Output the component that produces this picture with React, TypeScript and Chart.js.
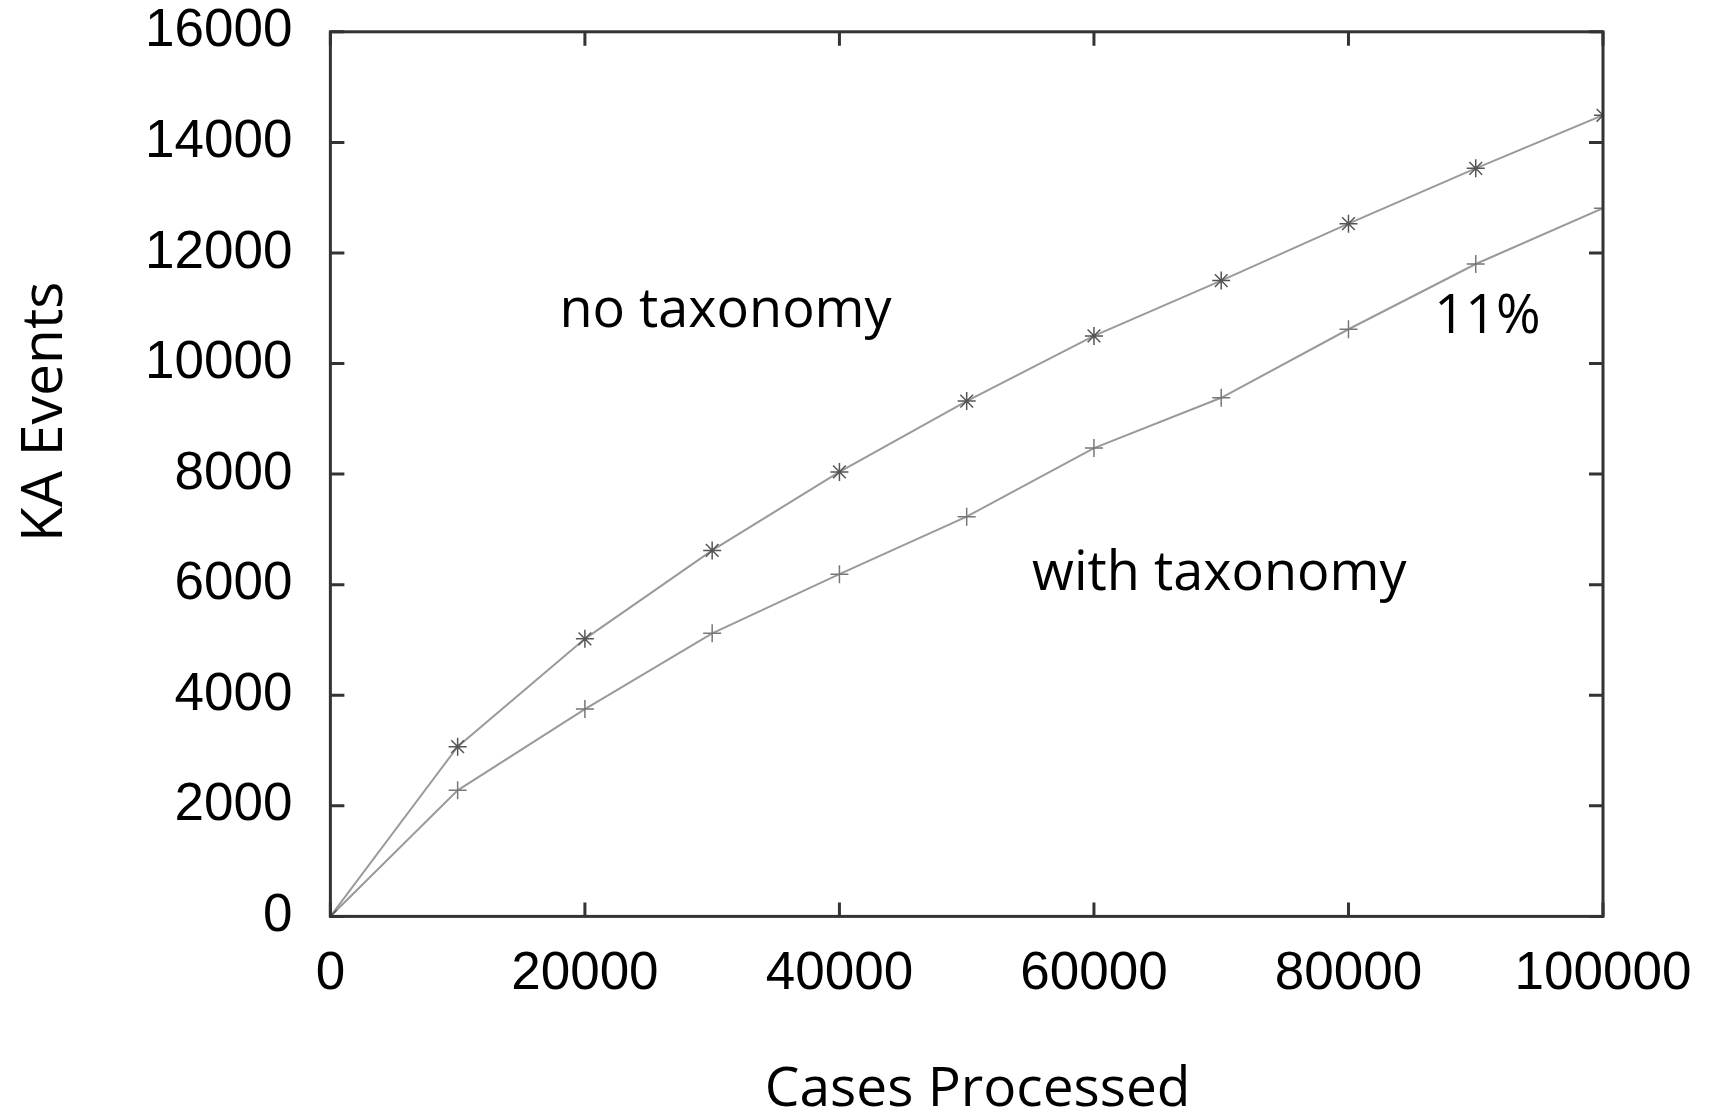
import React, { useEffect, useRef } from "react";
import { Chart, registerables } from "chart.js";

Chart.register(...registerables);

const casesProcessed = [0, 10000, 20000, 30000, 40000, 50000, 60000, 70000, 80000, 90000, 100000];
const noTaxonomy = [0, 3070, 5020, 6620, 8040, 9320, 10500, 11500, 12530, 13530, 14490];
const withTaxonomy = [0, 2280, 3750, 5120, 6190, 7230, 8470, 9380, 10620, 11800, 12810];

const xTickStep = 20000;
const yTickStep = 2000;

const annotations = [
  { text: "no taxonomy", x: 31050, y: 10940 },
  { text: "with taxonomy", x: 69850, y: 6183 },
  { text: "11%", x: 90920, y: 10830 },
];

const xTitle = "Cases Processed";
const yTitle = "KA Events";

const frameColor = "#333333";

const framePlugin = {
  id: "frameAndTicks",
  afterDatasetsDraw(chart: any) {
    const { ctx, chartArea } = chart;
    const xs = chart.scales.x;
    const ys = chart.scales.y;
    const len = 14;
    ctx.save();
    ctx.strokeStyle = frameColor;
    ctx.lineWidth = 3;
    ctx.strokeRect(chartArea.left, chartArea.top, chartArea.right - chartArea.left, chartArea.bottom - chartArea.top);
    ctx.beginPath();
    xs.ticks.forEach((t: any) => {
      const px = xs.getPixelForValue(t.value);
      ctx.moveTo(px, chartArea.bottom);
      ctx.lineTo(px, chartArea.bottom - len);
      ctx.moveTo(px, chartArea.top);
      ctx.lineTo(px, chartArea.top + len);
    });
    ys.ticks.forEach((t: any) => {
      const py = ys.getPixelForValue(t.value);
      ctx.moveTo(chartArea.left, py);
      ctx.lineTo(chartArea.left + len, py);
      ctx.moveTo(chartArea.right, py);
      ctx.lineTo(chartArea.right - len, py);
    });
    ctx.stroke();

    ctx.fillStyle = "#000";
    ctx.font = '54px "Open Sans"';
    ctx.textAlign = "center";
    ctx.textBaseline = "middle";
    annotations.forEach((a) => {
      ctx.fillText(a.text, xs.getPixelForValue(a.x), ys.getPixelForValue(a.y));
    });

    // axis titles
    const cx = (chartArea.left + chartArea.right) / 2;
    ctx.font = '55px "Open Sans"';
    ctx.fillText(xTitle, cx + 11, chartArea.bottom + 174);

    ctx.save();
    ctx.translate(chartArea.left - 285, chartArea.top + 380);
    ctx.rotate(-Math.PI / 2);
    ctx.font = '57px "Open Sans"';
    ctx.fillText(yTitle, 0, 0);
    ctx.restore();

    ctx.restore();
  },
};

export default function App() {
  const ref = useRef<HTMLCanvasElement | null>(null);
  useEffect(() => {
    if (!ref.current) return;
    const chart = new Chart(ref.current, {
      type: "line",
      data: {
        labels: casesProcessed,
        datasets: [
          {
            label: "no taxonomy",
            data: casesProcessed.map((x, i) => ({ x, y: noTaxonomy[i] })),
            borderColor: "#9a9a9a",
            borderWidth: 2,
            pointStyle: "star",
            pointRadius: 9,
            pointBorderColor: "#555",
            pointBorderWidth: 1.5,
            pointBackgroundColor: "#555",
            fill: false,
            tension: 0,
          },
          {
            label: "with taxonomy",
            data: casesProcessed.map((x, i) => ({ x, y: withTaxonomy[i] })),
            borderColor: "#9a9a9a",
            borderWidth: 2,
            pointStyle: "cross",
            pointRadius: 9,
            pointBorderColor: "#777",
            pointBorderWidth: 1.5,
            fill: false,
            tension: 0,
          },
        ],
      },
      options: {
        animation: false,
        responsive: false,
        maintainAspectRatio: false,
        layout: { padding: { left: 145, right: 106, top: 0, bottom: 111 } },
        plugins: { legend: { display: false }, tooltip: { enabled: false } },
        scales: {
          x: {
            type: "linear",
            min: 0,
            max: 100000,
            grid: { display: true, drawOnChartArea: false, drawTicks: true, tickLength: 26, color: "rgba(0,0,0,0)" },
            border: { display: false },
            ticks: {
              stepSize: xTickStep,
              color: "#000",
              padding: 0,
              maxRotation: 0,
              font: { family: '"Liberation Sans", Arial', size: 53 },
              callback: (v: any) => String(v),
            },
            title: { display: false },
          },
          y: {
            type: "linear",
            min: 0,
            max: 16000,
            grid: { display: true, drawOnChartArea: false, drawTicks: true, tickLength: 38, color: "rgba(0,0,0,0)" },
            border: { display: false },
            ticks: {
              stepSize: yTickStep,
              color: "#000",
              padding: 0,
              font: { family: '"Liberation Sans", Arial', size: 53 },
              callback: (v: any) => String(v),
            },
            title: { display: false },
          },
        },
      },
      plugins: [framePlugin],
    });
    return () => chart.destroy();
  }, []);
  return (
    <div style={{ position: "fixed", left: 0, top: 0, width: 1709, height: 1117, background: "#fff" }}>
      <canvas ref={ref} width={1709} height={1117} style={{ width: 1709, height: 1117 }} />
    </div>
  );
}
